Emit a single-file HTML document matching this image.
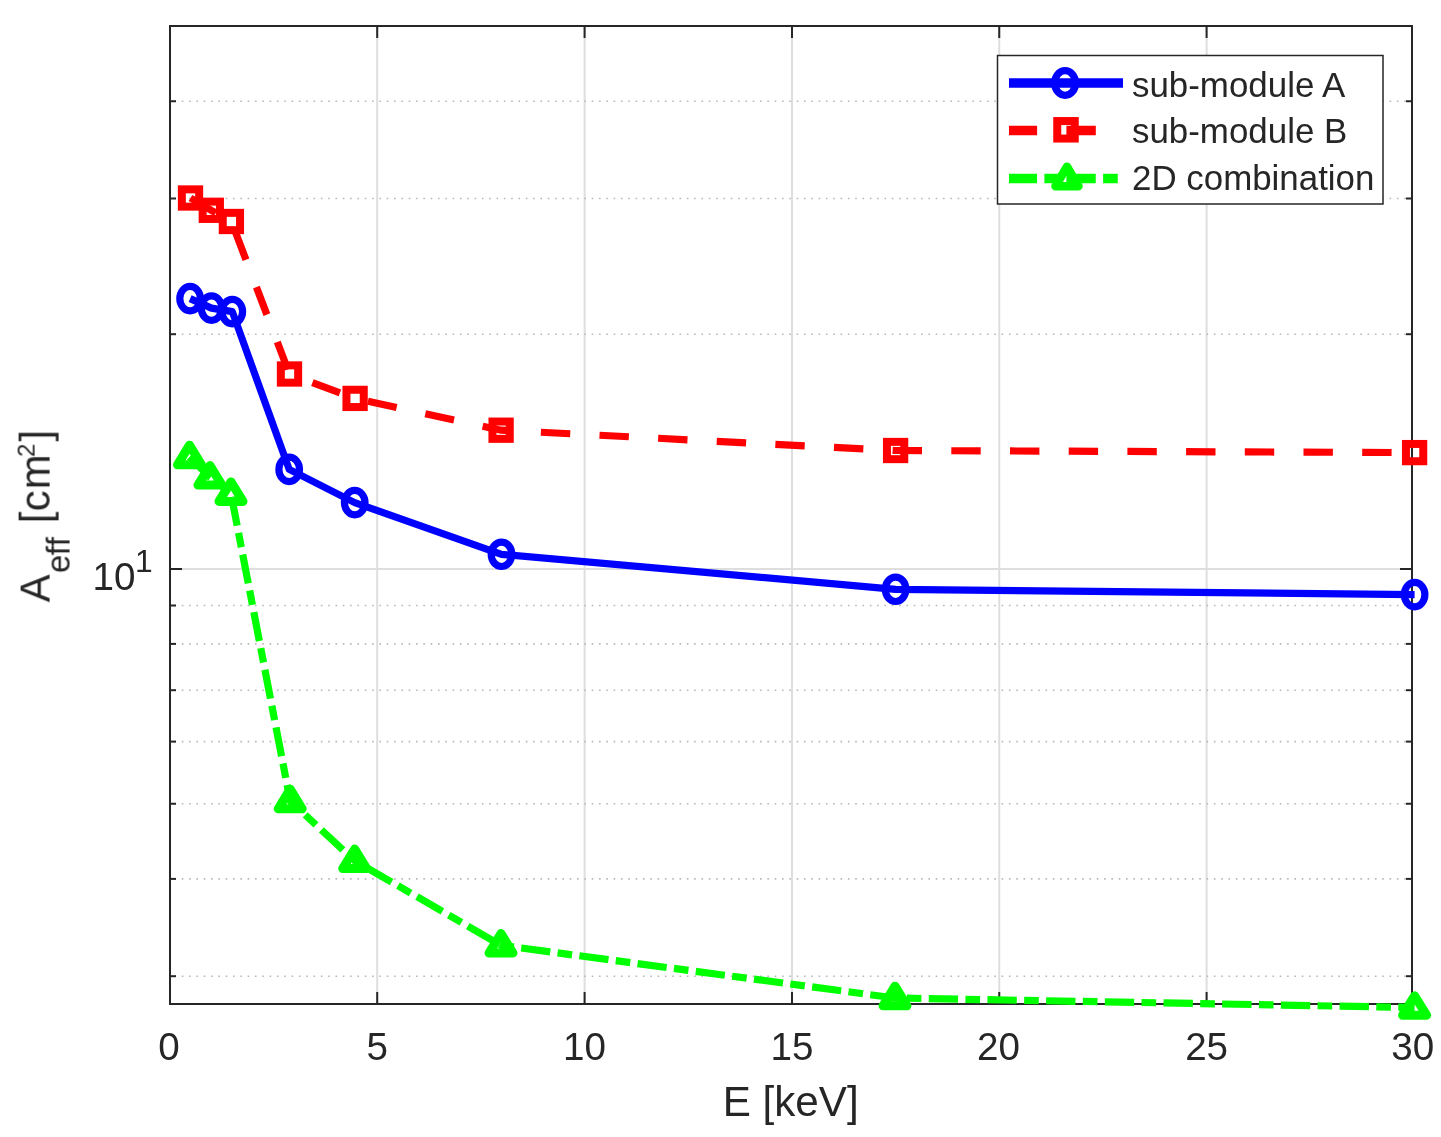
<!DOCTYPE html>
<html><head><meta charset="utf-8"><title>chart</title>
<style>html,body{margin:0;padding:0;background:#fff;} body{width:1441px;height:1137px;overflow:hidden;position:relative;font-family:"Liberation Sans", sans-serif;}</style>
</head><body>
<svg width="1441" height="1137" viewBox="0 0 1441 1137" style="position:absolute;left:0;top:0">
<rect x="0" y="0" width="1441" height="1137" fill="#ffffff"/>
<line x1="377.20" y1="26" x2="377.20" y2="1004" stroke="#dedede" stroke-width="2"/>
<line x1="584.60" y1="26" x2="584.60" y2="1004" stroke="#dedede" stroke-width="2"/>
<line x1="792.00" y1="26" x2="792.00" y2="1004" stroke="#dedede" stroke-width="2"/>
<line x1="999.25" y1="26" x2="999.25" y2="1004" stroke="#dedede" stroke-width="2"/>
<line x1="1206.60" y1="26" x2="1206.60" y2="1004" stroke="#dedede" stroke-width="2"/>
<line x1="170" y1="569.00" x2="1412" y2="569.00" stroke="#dedede" stroke-width="2"/>
<line x1="171" y1="976.20" x2="1411" y2="976.20" stroke="#b8b8b8" stroke-width="1.6" stroke-dasharray="1.6 5.72" stroke-dashoffset="-3.44"/>
<line x1="171" y1="878.90" x2="1411" y2="878.90" stroke="#b8b8b8" stroke-width="1.6" stroke-dasharray="1.6 5.72" stroke-dashoffset="-3.44"/>
<line x1="171" y1="803.75" x2="1411" y2="803.75" stroke="#b8b8b8" stroke-width="1.6" stroke-dasharray="1.6 5.72" stroke-dashoffset="-3.44"/>
<line x1="171" y1="741.60" x2="1411" y2="741.60" stroke="#b8b8b8" stroke-width="1.6" stroke-dasharray="1.6 5.72" stroke-dashoffset="-3.44"/>
<line x1="171" y1="690.20" x2="1411" y2="690.20" stroke="#b8b8b8" stroke-width="1.6" stroke-dasharray="1.6 5.72" stroke-dashoffset="-3.44"/>
<line x1="171" y1="643.90" x2="1411" y2="643.90" stroke="#b8b8b8" stroke-width="1.6" stroke-dasharray="1.6 5.72" stroke-dashoffset="-3.44"/>
<line x1="171" y1="605.50" x2="1411" y2="605.50" stroke="#b8b8b8" stroke-width="1.6" stroke-dasharray="1.6 5.72" stroke-dashoffset="-3.44"/>
<line x1="171" y1="334.20" x2="1411" y2="334.20" stroke="#b8b8b8" stroke-width="1.6" stroke-dasharray="1.6 5.72" stroke-dashoffset="-3.44"/>
<line x1="171" y1="198.50" x2="1411" y2="198.50" stroke="#b8b8b8" stroke-width="1.6" stroke-dasharray="1.6 5.72" stroke-dashoffset="-3.44"/>
<line x1="171" y1="101.25" x2="1411" y2="101.25" stroke="#b8b8b8" stroke-width="1.6" stroke-dasharray="1.6 5.72" stroke-dashoffset="-3.44"/>
<rect x="170" y="26" width="1242" height="978" fill="none" stroke="#262626" stroke-width="2"/>
<line x1="377.20" y1="1004" x2="377.20" y2="992" stroke="#262626" stroke-width="2"/>
<line x1="377.20" y1="26" x2="377.20" y2="38" stroke="#262626" stroke-width="2"/>
<line x1="584.60" y1="1004" x2="584.60" y2="992" stroke="#262626" stroke-width="2"/>
<line x1="584.60" y1="26" x2="584.60" y2="38" stroke="#262626" stroke-width="2"/>
<line x1="792.00" y1="1004" x2="792.00" y2="992" stroke="#262626" stroke-width="2"/>
<line x1="792.00" y1="26" x2="792.00" y2="38" stroke="#262626" stroke-width="2"/>
<line x1="999.25" y1="1004" x2="999.25" y2="992" stroke="#262626" stroke-width="2"/>
<line x1="999.25" y1="26" x2="999.25" y2="38" stroke="#262626" stroke-width="2"/>
<line x1="1206.60" y1="1004" x2="1206.60" y2="992" stroke="#262626" stroke-width="2"/>
<line x1="1206.60" y1="26" x2="1206.60" y2="38" stroke="#262626" stroke-width="2"/>
<line x1="170" y1="569.00" x2="182" y2="569.00" stroke="#262626" stroke-width="2"/>
<line x1="1412" y1="569.00" x2="1400" y2="569.00" stroke="#262626" stroke-width="2"/>
<line x1="170" y1="976.20" x2="176" y2="976.20" stroke="#262626" stroke-width="2"/>
<line x1="1412" y1="976.20" x2="1406" y2="976.20" stroke="#262626" stroke-width="2"/>
<line x1="170" y1="878.90" x2="176" y2="878.90" stroke="#262626" stroke-width="2"/>
<line x1="1412" y1="878.90" x2="1406" y2="878.90" stroke="#262626" stroke-width="2"/>
<line x1="170" y1="803.75" x2="176" y2="803.75" stroke="#262626" stroke-width="2"/>
<line x1="1412" y1="803.75" x2="1406" y2="803.75" stroke="#262626" stroke-width="2"/>
<line x1="170" y1="741.60" x2="176" y2="741.60" stroke="#262626" stroke-width="2"/>
<line x1="1412" y1="741.60" x2="1406" y2="741.60" stroke="#262626" stroke-width="2"/>
<line x1="170" y1="690.20" x2="176" y2="690.20" stroke="#262626" stroke-width="2"/>
<line x1="1412" y1="690.20" x2="1406" y2="690.20" stroke="#262626" stroke-width="2"/>
<line x1="170" y1="643.90" x2="176" y2="643.90" stroke="#262626" stroke-width="2"/>
<line x1="1412" y1="643.90" x2="1406" y2="643.90" stroke="#262626" stroke-width="2"/>
<line x1="170" y1="605.50" x2="176" y2="605.50" stroke="#262626" stroke-width="2"/>
<line x1="1412" y1="605.50" x2="1406" y2="605.50" stroke="#262626" stroke-width="2"/>
<line x1="170" y1="334.20" x2="176" y2="334.20" stroke="#262626" stroke-width="2"/>
<line x1="1412" y1="334.20" x2="1406" y2="334.20" stroke="#262626" stroke-width="2"/>
<line x1="170" y1="198.50" x2="176" y2="198.50" stroke="#262626" stroke-width="2"/>
<line x1="1412" y1="198.50" x2="1406" y2="198.50" stroke="#262626" stroke-width="2"/>
<line x1="170" y1="101.25" x2="176" y2="101.25" stroke="#262626" stroke-width="2"/>
<line x1="1412" y1="101.25" x2="1406" y2="101.25" stroke="#262626" stroke-width="2"/>
<polyline points="190.1,298.6 211.5,308.1 232.3,311.6 289.2,469.4 354.7,502.6 501.5,554.3 895.6,589.3 1414.6,594.6" fill="none" stroke="#0000ff" stroke-width="7.2" stroke-linejoin="round"/>
<polyline points="190.5,198.0 211.3,210.3 231.4,221.5 289.5,374.0 355.1,398.4 501.1,430.2 895.6,450.5 1414.6,452.6" fill="none" stroke="#ff0000" stroke-width="7.2" stroke-dasharray="29.4 29.3" stroke-linejoin="miter"/>
<polyline points="189.5,457.0 210.0,477.3 231.0,493.7 290.2,801.0 354.7,860.7 501.0,945.3 895.0,998.0 1414.6,1007.5" fill="none" stroke="#00ff00" stroke-width="7.2" stroke-dasharray="29.35 7.35 14.65 7.35" stroke-linejoin="miter"/>
<ellipse cx="190.1" cy="298.6" rx="10.3" ry="12.2" fill="none" stroke="#0000ff" stroke-width="7.2"/>
<ellipse cx="211.5" cy="308.1" rx="10.3" ry="12.2" fill="none" stroke="#0000ff" stroke-width="7.2"/>
<ellipse cx="232.3" cy="311.6" rx="10.3" ry="12.2" fill="none" stroke="#0000ff" stroke-width="7.2"/>
<ellipse cx="289.2" cy="469.4" rx="10.3" ry="12.2" fill="none" stroke="#0000ff" stroke-width="7.2"/>
<ellipse cx="354.7" cy="502.6" rx="10.3" ry="12.2" fill="none" stroke="#0000ff" stroke-width="7.2"/>
<ellipse cx="501.5" cy="554.3" rx="10.3" ry="12.2" fill="none" stroke="#0000ff" stroke-width="7.2"/>
<ellipse cx="895.6" cy="589.3" rx="10.3" ry="12.2" fill="none" stroke="#0000ff" stroke-width="7.2"/>
<ellipse cx="1414.6" cy="594.6" rx="10.3" ry="12.2" fill="none" stroke="#0000ff" stroke-width="7.2"/>
<rect x="181.85" y="189.35" width="17.3" height="17.3" fill="none" stroke="#ff0000" stroke-width="8"/>
<rect x="202.65" y="201.65" width="17.3" height="17.3" fill="none" stroke="#ff0000" stroke-width="8"/>
<rect x="222.75" y="212.85" width="17.3" height="17.3" fill="none" stroke="#ff0000" stroke-width="8"/>
<rect x="280.85" y="365.35" width="17.3" height="17.3" fill="none" stroke="#ff0000" stroke-width="8"/>
<rect x="346.45" y="389.75" width="17.3" height="17.3" fill="none" stroke="#ff0000" stroke-width="8"/>
<rect x="492.45" y="421.55" width="17.3" height="17.3" fill="none" stroke="#ff0000" stroke-width="8"/>
<rect x="886.95" y="441.85" width="17.3" height="17.3" fill="none" stroke="#ff0000" stroke-width="8"/>
<rect x="1405.95" y="443.95" width="17.3" height="17.3" fill="none" stroke="#ff0000" stroke-width="8"/>
<polygon points="189.5,445.2 201.5,464.8 177.5,464.8" fill="none" stroke="#00ff00" stroke-width="9" stroke-linejoin="round"/>
<polygon points="210.0,465.6 222.0,485.1 198.0,485.1" fill="none" stroke="#00ff00" stroke-width="9" stroke-linejoin="round"/>
<polygon points="231.0,481.9 243.0,501.4 219.0,501.4" fill="none" stroke="#00ff00" stroke-width="9" stroke-linejoin="round"/>
<polygon points="290.2,789.2 302.2,808.8 278.2,808.8" fill="none" stroke="#00ff00" stroke-width="9" stroke-linejoin="round"/>
<polygon points="354.7,849.0 366.7,868.5 342.7,868.5" fill="none" stroke="#00ff00" stroke-width="9" stroke-linejoin="round"/>
<polygon points="501.0,933.5 513.0,953.0 489.0,953.0" fill="none" stroke="#00ff00" stroke-width="9" stroke-linejoin="round"/>
<polygon points="895.0,986.2 907.0,1005.8 883.0,1005.8" fill="none" stroke="#00ff00" stroke-width="9" stroke-linejoin="round"/>
<polygon points="1414.6,995.8 1426.6,1015.2 1402.6,1015.2" fill="none" stroke="#00ff00" stroke-width="9" stroke-linejoin="round"/>
<rect x="997.5" y="55.5" width="385.5" height="148.5" fill="#ffffff" stroke="#262626" stroke-width="1.5"/>
<line x1="1009" y1="82.9" x2="1123" y2="82.9" stroke="#0000ff" stroke-width="9.5"/>
<ellipse cx="1065.1" cy="83.0" rx="10.5" ry="12.3" fill="none" stroke="#0000ff" stroke-width="7.2"/>
<line x1="1009" y1="130.5" x2="1123" y2="130.5" stroke="#ff0000" stroke-width="9.5" stroke-dasharray="29.4 29.3" stroke-dashoffset="1.3"/>
<rect x="1057.25" y="121.05" width="17.5" height="17.5" fill="none" stroke="#ff0000" stroke-width="8"/>
<line x1="1009" y1="178.5" x2="1123" y2="178.5" stroke="#00ff00" stroke-width="9.5" stroke-dasharray="29.35 7.35 14.65 7.35" stroke-dashoffset="1.3"/>
<polygon points="1067.0,166.7 1078.5,186.2 1055.5,186.2" fill="none" stroke="#00ff00" stroke-width="8.5" stroke-linejoin="round"/>
<g opacity="0.999">
<text x="169.00" y="1059.6" font-family="Liberation Sans" font-size="38.6" fill="#262626" text-anchor="middle">0</text>
<text x="377.20" y="1059.6" font-family="Liberation Sans" font-size="38.6" fill="#262626" text-anchor="middle">5</text>
<text x="584.40" y="1059.6" font-family="Liberation Sans" font-size="38.6" fill="#262626" text-anchor="middle">10</text>
<text x="792.00" y="1059.6" font-family="Liberation Sans" font-size="38.6" fill="#262626" text-anchor="middle">15</text>
<text x="998.50" y="1059.6" font-family="Liberation Sans" font-size="38.6" fill="#262626" text-anchor="middle">20</text>
<text x="1206.60" y="1059.6" font-family="Liberation Sans" font-size="38.6" fill="#262626" text-anchor="middle">25</text>
<text x="1412.80" y="1059.6" font-family="Liberation Sans" font-size="38.6" fill="#262626" text-anchor="middle">30</text>
<text x="92.6" y="589.6" font-family="Liberation Sans" font-size="38.6" fill="#262626">10</text>
<text x="135" y="571.7" font-family="Liberation Sans" font-size="31.8" fill="#262626">1</text>
<text x="790.7" y="1116.1" font-family="Liberation Sans" font-size="42.2" fill="#262626" text-anchor="middle">E [keV]</text>
<g transform="translate(49.6,602.3) rotate(-90)" font-family="Liberation Sans" fill="#262626">
<text x="-0.08" y="0" font-size="41.8">A</text>
<text x="29.3" y="20.2" font-size="33">e</text>
<text x="46.9" y="20.2" font-size="33">f</text>
<text x="56.1" y="20.2" font-size="33">f</text>
<text x="79.1" y="0" font-size="41.8">[</text>
<text x="91.1" y="0" font-size="41.8">c</text>
<text x="112.9" y="0" font-size="41.8">m</text>
<text x="145.3" y="-14.7" font-size="24">2</text>
<text x="160.7" y="0" font-size="41.8">]</text>
</g>
<text x="1132" y="97.0" font-family="Liberation Sans" font-size="34.9" fill="#262626">sub-module A</text>
<text x="1132" y="142.6" font-family="Liberation Sans" font-size="34.9" fill="#262626">sub-module B</text>
<text x="1132" y="189.6" font-family="Liberation Sans" font-size="34.9" fill="#262626">2D combination</text>
</g>
</svg>
</body></html>
